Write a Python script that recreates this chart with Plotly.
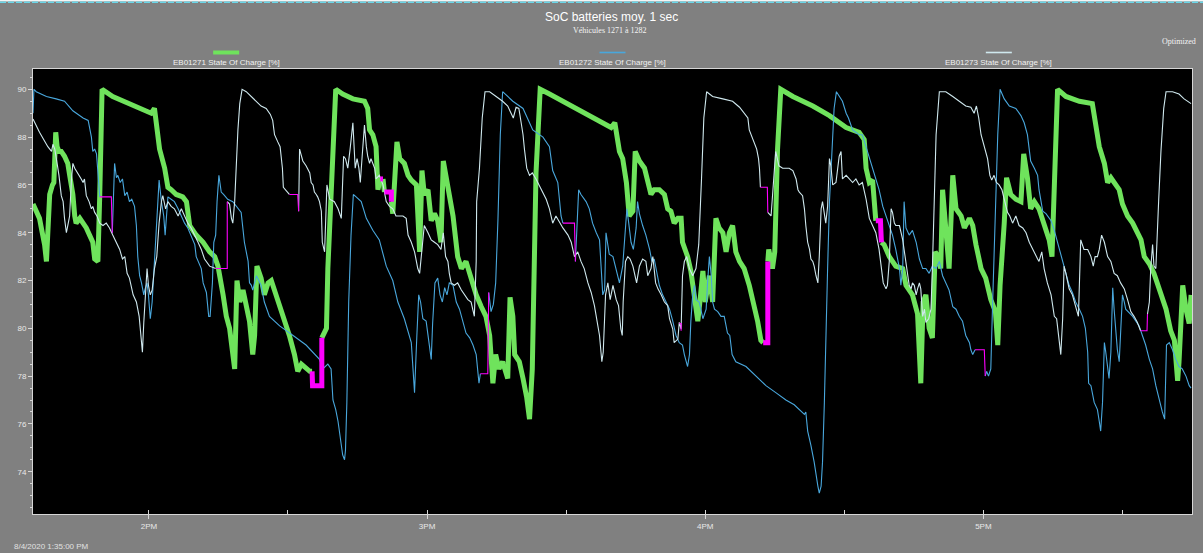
import pandas as pd
import plotly.graph_objects as go

START = pd.Timestamp("2020-08-04 13:35:00")
SPAN_MIN = 250  # 13:35 -> 17:45

# (minutes after 13:35, state of charge %) ; None = substituted stretch (drawn in magenta)
eb01271 = [
    (0.0, 85.2), (1.4, 84.6), (1.8, 84.2), (2.5, 83.5), (2.9, 82.8), (3.2, 84.7), (3.6, 85.6), (4.2, 86.0),
    (4.5, 86.1), (4.9, 88.2), (5.2, 87.6), (5.6, 87.4), (6.1, 87.4), (6.8, 87.2), (7.5, 86.9), (8.0, 86.3),
    (8.6, 85.6), (9.0, 84.7), (9.3, 84.4), (10.1, 84.6), (10.8, 84.4), (11.5, 84.2), (12.2, 83.9), (12.9, 83.6),
    (13.3, 82.9), (13.7, 82.8), (14.0, 82.8), (14.4, 85.6), (14.9, 90.0), (17.2, 89.7), (21.6, 89.3), (25.5, 89.0),
    (26.2, 89.2), (26.6, 88.6), (27.3, 87.5), (28.4, 86.7), (29.1, 85.9), (29.8, 85.8), (30.9, 85.6), (32.3, 85.5),
    (33.1, 85.3), (33.8, 84.3), (35.2, 83.9), (36.7, 83.6), (38.1, 83.2), (39.2, 83.0), (39.9, 82.6), (41.0, 81.4),
    (41.7, 80.5), (42.4, 80.0), (43.1, 78.6), (43.5, 78.3), (44.0, 82.0), (44.6, 81.1), (45.3, 81.6), (46.0, 80.8),
    (46.7, 80.3), (47.4, 78.9), (47.8, 79.7), (48.3, 82.6), (49.2, 82.1), (49.9, 81.4), (50.7, 81.9), (51.4, 82.0),
    (52.1, 81.6), (53.2, 81.0), (54.3, 80.4), (55.3, 79.7), (56.4, 78.9), (57.1, 78.2), (57.9, 78.5), (59.7, 78.2),
    (60.2, 78.2), None,
    (62.3, 79.6), (63.3, 80.0), (63.6, 82.5), (64.0, 84.2), (64.3, 85.9), (64.7, 88.1), (65.3, 90.0), (66.8, 89.8),
    (69.0, 89.6), (71.5, 89.5), (72.2, 89.2), (72.6, 88.3), (73.3, 88.1), (74.0, 87.6), (74.4, 85.8), (74.9, 86.25),
    None, (75.5, 86.25), (75.8, 85.7), None,
    (77.3, 85.3), (77.6, 84.8), (78.5, 87.8), (79.1, 87.1), (80.1, 86.9), (80.9, 86.4), (81.6, 86.2), (82.7, 86.0),
    (83.4, 83.2), (83.9, 86.6), (84.4, 85.6), (85.2, 85.8), (85.9, 84.5), (86.6, 84.8), (87.3, 84.5), (88.0, 83.6),
    (88.5, 87.0), (89.5, 86.0), (90.6, 84.7), (91.6, 83.0), (92.4, 82.5), (93.4, 82.8), (94.5, 82.1), (95.6, 81.4),
    (96.7, 80.9), (97.7, 80.5), (98.5, 79.7), (99.2, 77.7), (99.8, 78.9), (100.5, 78.3), (101.3, 78.6), (102.4, 77.9),
    (102.9, 81.3), (103.5, 80.5), (103.9, 78.9), (104.9, 78.6), (105.7, 77.9), (106.5, 77.1), (107.1, 76.2), (107.7, 78.3),
    (108.5, 86.5), (109.4, 90.0), (111.4, 89.8), (114.3, 89.5), (118.6, 89.0), (122.9, 88.6), (124.7, 88.4), (125.5, 88.6),
    (126.5, 87.4), (127.2, 87.1), (128.0, 86.1), (128.6, 84.7), (129.4, 84.9), (129.9, 87.4), (130.8, 87.0), (131.9, 86.7),
    (132.6, 86.2), (133.3, 85.6), (134.0, 85.8), (135.1, 85.8), (136.2, 85.6), (136.9, 85.0), (137.6, 84.9), (138.3, 84.4),
    (139.1, 84.6), (139.8, 84.6), (140.1, 83.6), (141.2, 83.0), (141.9, 82.4), (142.7, 81.4), (143.4, 80.3), (143.9, 81.2),
    (144.5, 82.4), (145.0, 81.1), (145.9, 82.2), (146.6, 81.1), (147.3, 84.6), (148.0, 84.2), (148.8, 84.0), (149.5, 83.2),
    (150.2, 84.0), (150.9, 84.3), (151.6, 83.2), (152.4, 82.8), (153.4, 82.5), (154.5, 81.8), (155.6, 81.0), (156.3, 80.3),
    (157.0, 79.5), (157.5, 79.4), None,
    (158.5, 82.8), (158.7, 83.3), (159.5, 82.5), (160.0, 83.2), (160.6, 87.5), (161.3, 90.0), (163.9, 89.7), (168.2, 89.3),
    (171.8, 88.9), (173.9, 88.6), (175.4, 88.4), (178.2, 88.2), (179.3, 87.9), (179.7, 86.7), (180.4, 86.1), (181.1, 86.2),
    (181.8, 84.5), None,
    (183.0, 83.6), (183.6, 83.5), (184.7, 83.0), (186.1, 82.6), (187.6, 82.5), (188.3, 81.8), (189.7, 81.4), (190.8, 80.6),
    (191.5, 77.7), (192.0, 81.1), (192.6, 81.4), (193.3, 80.0), (194.0, 79.6), (194.6, 83.2), (195.3, 83.0), (195.8, 82.5),
    (196.2, 85.8), (196.9, 84.1), (197.6, 82.5), (198.4, 86.4), (199.1, 85.0), (200.2, 84.7), (200.9, 84.2), (202.0, 84.6),
    (202.7, 84.3), (203.4, 83.5), (204.5, 82.5), (205.5, 82.1), (206.6, 81.2), (207.6, 80.7), (208.1, 79.3), (208.6, 81.8),
    (209.1, 83.0), (209.5, 84.4), (210.0, 86.3), (210.9, 85.6), (212.0, 85.4), (213.1, 85.3), (213.7, 87.3), (214.5, 86.3),
    (215.2, 85.0), (216.0, 85.3), (217.0, 85.0), (218.1, 84.3), (219.2, 83.7), (219.8, 83.0), (220.3, 86.6), (221.0, 90.0),
    (222.8, 89.7), (225.7, 89.5), (228.5, 89.4), (229.3, 88.5), (230.0, 87.6), (231.1, 86.9), (231.8, 86.1), (232.5, 86.3),
    (233.2, 86.1), (234.3, 85.8), (235.0, 85.2), (236.1, 84.7), (237.2, 84.4), (238.2, 84.0), (239.0, 83.7), (239.7, 83.0),
    (240.8, 82.7), (241.8, 82.3), (242.6, 81.8), (243.3, 81.4), (244.4, 80.8), (245.4, 79.9), (246.2, 79.5), (246.9, 77.8),
    (247.2, 78.6), (248.0, 81.8), (248.7, 80.8), (249.4, 80.2), (249.8, 81.4),
]

eb01272 = [
    (0.0, 89.0), (0.2, 90.0), (0.7, 89.9), (2.9, 89.7), (5.0, 89.6), (6.8, 89.5), (8.6, 89.1), (10.8, 88.8),
    (11.9, 88.7), (12.6, 88.0), (12.9, 87.4), (13.3, 87.5), (13.7, 87.3), (13.9, 86.7), (14.4, 85.5), None,
    (17.1, 84.0), (17.6, 86.9), (18.0, 86.3), (18.3, 86.4), (18.8, 86.1), (19.3, 86.25), (19.8, 85.55), (20.3, 85.7),
    (20.8, 85.3), (21.3, 85.4), (21.9, 85.1), (22.3, 84.3), (22.6, 83.0), (23.0, 82.2), (23.4, 81.9), (23.9, 81.4),
    (24.1, 81.6), (24.6, 81.9), (24.9, 81.4), (25.3, 80.4), (25.7, 81.1), (26.3, 83.3), (26.7, 84.3), (27.2, 86.2),
    (27.7, 85.3), (28.2, 84.7), (28.5, 83.9), (29.1, 85.5), (29.8, 85.4), (30.5, 85.3), (31.3, 85.0), (32.0, 84.7),
    (32.7, 84.4), (33.4, 84.2), (34.1, 83.9), (34.9, 83.5), (35.2, 83.0), (35.6, 82.8), (36.3, 82.5), (36.7, 81.9),
    (37.4, 81.5), (37.9, 80.5), (38.2, 80.5), (38.7, 81.9), (39.0, 83.6), (39.4, 83.9), (39.7, 85.3), (40.1, 86.4),
    (40.6, 85.7), (41.1, 85.6), (42.0, 85.4), (43.1, 85.3), (44.2, 85.0), (44.9, 84.85), (45.6, 83.6), (46.4, 82.8),
    (46.7, 81.9), (47.1, 81.8), (47.4, 81.6), (48.2, 82.2), (49.2, 81.8), (49.9, 81.1), (51.0, 80.5), (53.2, 80.1),
    (56.1, 79.7), (58.9, 79.3), (61.8, 78.7), (62.5, 78.3), (63.6, 78.5), (64.3, 78.3), (64.7, 77.0), (65.3, 76.6),
    (65.8, 76.1), (66.5, 75.2), (66.8, 74.7), (67.2, 74.5), (67.4, 74.9), (67.7, 76.9), (68.1, 81.1), (68.6, 83.9),
    (69.1, 85.6), (69.7, 85.5), (70.8, 85.3), (71.9, 84.6), (73.3, 84.1), (74.7, 83.7), (76.2, 82.6), (77.6, 82.0),
    (78.7, 81.1), (80.1, 80.4), (81.6, 79.4), (81.9, 78.5), (82.3, 77.3), (82.8, 79.7), (83.2, 81.4), (83.6, 81.1),
    (84.1, 80.4), (84.8, 80.3), (85.4, 79.3), (85.9, 78.7), (86.2, 80.2), (86.7, 81.9), (87.3, 82.1), (87.8, 81.4),
    (88.3, 81.1), (88.8, 81.7), (89.3, 81.4), (89.8, 81.9), (90.6, 81.8), (91.3, 81.1), (92.0, 80.8), (92.7, 80.3),
    (93.4, 79.8), (94.2, 79.6), (94.9, 79.3), (95.6, 78.9), (96.2, 77.7), (96.5, 78.1), None,
    (98.3, 81.5), (98.8, 80.7), (99.3, 81.0), (99.8, 81.9), (100.3, 84.6), (100.8, 88.1), (101.3, 89.9), (103.5, 89.5),
    (105.7, 89.2), (107.8, 88.3), (110.0, 88.0), (111.4, 87.6), (112.1, 86.6), (113.2, 86.1), (113.9, 84.7), (114.3, 84.4),
    None,
    (117.0, 82.8), (117.7, 85.8), (118.2, 85.6), (119.3, 85.3), (120.0, 85.0), (120.7, 84.4), (121.5, 84.0), (122.2, 83.7),
    (122.9, 81.4), (123.3, 81.6), (123.6, 84.0), (124.3, 83.1), (125.1, 83.0), (125.8, 82.5), (126.5, 81.9), (127.2, 82.6),
    (127.8, 84.2), (128.1, 85.0), (128.5, 84.4), (129.0, 83.6), (129.5, 83.3), (130.1, 84.2), (130.4, 85.3), (130.8, 84.8),
    (131.5, 84.3), (132.2, 83.9), (133.0, 83.3), (133.5, 82.8), (134.0, 82.9), (134.4, 82.5), (135.1, 81.8), (135.8, 81.4),
    (136.5, 81.1), (137.3, 80.8), (138.0, 80.3), (138.7, 79.7), (139.4, 79.4), (140.1, 79.3), (140.5, 78.9), (140.9, 78.6),
    (141.2, 78.4), (141.6, 78.9), (141.9, 80.3), (142.3, 81.4), (142.7, 81.8), (143.0, 81.2), (143.7, 81.1), (144.5, 80.4),
    (145.2, 80.8), (145.5, 81.9), (145.9, 83.0), (146.3, 82.2), (146.6, 81.1), (147.0, 80.8), (147.7, 80.7), (148.4, 80.5),
    (149.1, 80.5), (149.8, 79.8), (150.3, 79.7), (150.8, 78.9), (151.6, 78.6), (153.8, 78.4), (155.9, 78.0), (158.1, 77.6),
    (160.3, 77.3), (162.4, 77.0), (164.2, 76.8), (165.7, 76.5), (166.4, 76.4), (166.7, 76.5), (167.1, 75.7), (167.8, 75.1),
    (168.5, 74.4), (169.3, 73.4), (169.6, 73.1), (170.0, 73.4), (170.3, 74.4), (170.7, 76.9), (171.0, 79.7), (171.4, 82.5),
    (171.8, 85.3), (172.3, 87.4), (172.8, 89.2), (173.3, 89.9), (173.9, 89.7), (174.6, 89.5), (175.4, 89.0), (175.9, 88.8),
    (176.8, 88.3), (177.5, 88.2), (178.2, 88.1), (178.9, 88.1), (179.7, 87.6), (180.4, 87.1), (181.1, 86.7), (181.8, 86.2),
    (182.5, 85.8), (183.3, 85.1), (184.0, 84.7), (184.7, 84.3), (185.4, 83.9), (186.1, 83.3), (186.9, 82.5), (187.2, 81.8),
    (187.6, 82.5), (187.9, 85.3), (188.3, 84.2), (189.0, 83.9), (189.7, 84.1), (190.5, 83.6), (191.2, 82.9), (191.9, 82.5),
    (192.6, 82.5), (193.3, 82.3), (194.0, 82.6), (194.8, 82.5), (195.5, 82.8), (196.2, 82.2), (196.9, 81.9), (197.6, 81.6),
    (198.4, 80.9), (199.1, 80.8), (199.8, 80.5), (200.5, 80.3), (201.2, 79.7), (202.0, 79.4), (202.3, 79.1), (202.7, 78.9),
    (203.2, 79.1), None,
    (205.4, 78.0), (205.7, 78.2), (206.1, 78.0), (206.6, 78.3), (207.0, 81.1), (207.6, 85.3), (208.1, 88.1), (208.6, 90.0),
    (209.5, 89.6), (210.6, 89.3), (212.0, 89.2), (213.1, 88.9), (213.8, 88.6), (214.5, 88.1), (214.9, 87.4), (215.2, 87.0),
    (216.0, 86.7), (216.7, 86.4), (217.0, 85.8), (217.4, 85.3), (217.8, 84.9), (218.5, 84.8), (219.6, 84.5), (220.3, 84.1),
    (221.0, 83.6), (221.7, 83.0), (222.4, 82.5), (222.8, 82.2), (223.5, 81.8), (224.2, 81.5), (224.9, 81.1), (225.7, 80.8),
    (226.4, 80.5), (227.0, 80.0), (227.5, 79.0), (227.7, 77.7), (228.2, 77.6), (228.9, 76.9), (229.6, 76.6), (230.0, 76.1),
    (230.3, 75.7), (230.7, 76.9), (231.1, 79.4), (231.4, 79.0), (231.8, 78.3), (232.1, 77.9), (232.5, 79.0), (232.9, 81.7),
    (233.2, 80.8), (233.6, 79.7), (233.9, 79.1), (234.3, 78.6), (234.6, 79.7), (235.0, 81.4), (235.4, 81.1), (235.7, 80.8),
    (237.2, 80.5), (237.9, 80.3), (238.6, 80.1), (239.3, 79.7), (240.0, 79.3), (240.8, 78.7), (241.5, 78.3), (242.2, 77.6),
    (242.9, 77.0), (243.6, 76.5), (244.1, 76.2), (244.5, 79.3), (245.1, 79.4), (245.8, 79.1), (246.5, 78.7), (247.2, 78.4),
    (247.9, 78.3), (248.7, 78.0), (249.4, 77.6), (249.8, 77.5),
]

eb01273 = [
    (0.0, 88.76), (1.4, 88.2), (3.2, 87.6), (4.0, 87.4), (4.3, 87.7), (4.7, 87.5), (5.2, 86.9), (5.6, 86.4),
    (6.1, 85.55), (6.5, 85.3), (6.8, 84.6), (7.2, 84.0), (7.5, 84.3), (7.9, 84.7), (8.3, 86.25), (8.6, 86.9),
    (9.0, 86.7), (9.7, 86.5), (10.4, 86.25), (10.8, 86.1), (11.1, 86.25), (11.5, 85.55), (12.1, 85.3), (12.6, 85.0),
    (12.9, 85.1), (13.3, 84.85), (13.8, 84.7), (14.4, 84.4), (15.1, 84.3), (15.8, 84.4), (16.5, 84.2), (17.2, 83.9),
    (18.0, 83.6), (18.7, 83.3), (19.3, 82.9), (19.8, 83.0), (20.3, 82.3), (20.8, 82.1), (21.6, 81.4), (22.3, 81.1),
    (22.9, 80.5), (23.4, 79.4), (23.6, 79.0), (23.9, 80.25), (24.3, 81.4), (24.6, 82.5), (24.9, 81.8), (25.3, 81.4),
    (25.7, 81.6), (26.2, 82.5), (26.7, 83.0), (27.2, 84.4), (27.7, 85.3), (28.0, 85.55), (28.6, 85.0), (29.1, 85.3),
    (29.8, 85.1), (30.5, 85.0), (31.3, 84.7), (32.0, 85.0), (32.7, 84.7), (33.4, 84.4), (34.1, 84.2), (34.9, 83.9),
    (35.6, 83.6), (36.3, 83.3), (37.0, 82.9), (38.1, 82.6), (39.4, 82.5), None,
    (41.9, 85.3), (42.4, 85.2), (42.8, 84.6), (43.1, 84.4), (43.5, 85.3), (43.8, 86.7), (44.2, 88.3), (44.6, 89.4),
    (45.1, 90.0), (46.0, 89.9), (47.1, 89.7), (48.2, 89.5), (49.2, 89.3), (50.3, 89.2), (51.2, 88.95), (51.7, 88.7),
    (52.1, 88.1), (52.8, 87.8), (53.3, 87.6), (53.8, 86.7), (54.0, 85.9), (55.3, 85.6), None,
    (57.3, 84.9), (57.5, 87.5), (58.2, 87.0), (58.9, 86.8), (59.7, 86.5), (60.0, 86.1), (60.4, 86.0), (60.7, 85.7),
    (61.1, 85.6), (61.4, 85.5), (61.8, 85.3), (62.2, 84.9), (62.4, 83.6), (62.9, 83.2), (63.4, 86.0), (64.0, 85.4),
    (65.0, 85.3), (65.8, 85.0), (66.5, 84.6), (67.0, 87.2), (67.4, 87.1), (67.9, 86.7), (68.4, 87.5), (69.0, 88.6),
    (69.5, 86.7), (69.9, 87.1), (70.3, 86.7), (70.6, 86.1), (71.0, 87.2), (71.5, 88.5), (71.9, 87.6), (72.2, 87.2),
    (72.6, 86.9), (72.9, 87.1), (73.7, 86.7), (74.0, 86.25), (74.7, 86.4), (75.5, 86.0), (76.2, 85.3), (76.9, 85.1),
    (77.6, 85.0), (78.3, 84.7), (79.1, 84.7), (79.8, 84.7), (80.5, 84.6), (80.9, 83.9), (81.6, 83.6), (82.3, 83.2),
    (83.0, 82.5), (83.4, 82.3), (83.9, 83.3), (84.4, 84.3), (85.2, 84.0), (85.9, 83.7), (86.6, 83.6), (87.3, 83.5),
    (88.0, 83.3), (88.5, 84.0), (89.0, 83.0), (89.5, 82.8), (89.8, 82.3), (90.2, 81.9), (90.9, 81.8), (91.6, 81.9),
    (92.4, 81.6), (93.1, 81.4), (93.8, 81.2), (94.5, 81.1), (95.2, 80.5), (95.6, 82.8), (95.7, 85.3), (96.3, 86.7),
    (96.9, 88.8), (97.5, 89.9), (98.5, 89.9), (99.9, 89.7), (101.3, 89.5), (102.4, 89.3), (103.1, 89.0), (103.6, 88.8),
    (104.2, 89.25), (104.8, 89.2), (105.3, 88.6), (105.7, 88.1), (106.0, 87.5), (106.5, 86.7), (107.1, 86.4), (107.7, 86.5),
    (108.5, 86.25), (109.2, 86.0), (110.0, 85.7), (110.7, 85.4), (111.4, 85.0), (112.1, 84.4), (112.8, 84.7), (113.6, 84.4),
    (114.3, 84.2), (115.4, 83.9), (116.1, 83.6), (116.8, 83.0), (117.5, 83.2), (118.2, 82.8), (118.9, 82.5), (119.7, 81.9),
    (120.4, 81.5), (121.1, 80.95), (121.8, 80.25), (122.2, 79.7), (122.7, 78.6), (123.0, 79.0), (123.5, 81.4), (124.0, 81.9),
    (124.5, 81.2), (125.1, 81.8), (125.8, 81.2), (126.3, 80.95), (126.8, 79.97), (127.1, 79.7), (127.3, 81.1), (127.8, 82.8),
    (128.3, 83.0), (128.8, 82.9), (129.4, 82.6), (129.9, 82.2), (130.2, 81.9), (130.8, 82.6), (131.5, 82.9), (132.2, 82.8),
    (132.6, 82.2), (133.3, 82.5), (133.7, 83.0), (134.3, 81.9), (134.8, 81.65), (135.5, 81.4), (136.2, 81.1), (136.9, 80.95),
    (137.3, 80.4), (138.0, 79.97), (138.3, 79.4), (139.1, 79.55), (139.4, 80.25), (139.8, 79.97), (140.1, 82.2), (140.5, 82.8),
    (141.0, 83.0), (141.6, 82.5), (142.3, 82.2), (143.0, 82.5), (143.6, 83.5), (144.2, 86.25), (144.7, 88.8), (145.3, 89.9),
    (146.6, 89.7), (148.8, 89.6), (150.9, 89.5), (152.4, 89.25), (153.4, 89.0), (154.2, 88.8), (154.5, 88.3), (154.9, 88.1),
    (155.6, 87.8), (156.1, 87.5), (156.5, 87.1), (156.7, 86.7), (156.9, 85.9), None,
    (158.5, 84.85), (159.2, 84.7), (160.2, 87.4), (160.9, 86.8), (161.7, 86.7), (162.4, 86.7), (163.1, 86.7), (163.9, 86.6),
    (164.6, 86.25), (165.0, 85.8), (165.3, 85.7), (166.0, 85.55), (166.4, 85.0), (166.7, 84.3), (167.1, 83.6), (167.5, 83.3),
    (167.8, 82.9), (168.2, 82.8), (168.5, 82.6), (168.9, 82.2), (169.3, 81.9), (169.6, 83.0), (170.0, 85.0), (170.3, 85.3),
    (170.7, 84.7), (171.0, 84.4), (171.4, 85.1), (171.8, 87.1), (172.1, 86.8), (172.5, 86.0), (173.2, 86.1), (173.9, 87.2),
    (174.3, 87.4), (174.6, 86.25), (175.4, 86.4), (176.1, 86.25), (176.8, 86.1), (177.5, 86.25), (178.2, 86.0), (178.9, 86.1),
    (179.7, 85.4), (180.4, 84.6), (181.1, 84.3), (181.8, 84.0), (182.5, 83.3), (182.9, 82.6), (183.4, 81.9), (184.0, 81.65),
    (184.3, 81.8), (184.7, 82.8), (185.1, 85.0), (185.4, 84.85), (185.8, 84.4), (186.1, 84.3), (186.9, 84.3), (187.6, 83.7),
    (188.3, 82.8), (189.0, 81.8), (189.4, 81.65), (189.7, 81.9), (190.1, 81.8), (190.5, 81.4), (190.8, 81.65), (191.2, 81.9),
    (191.5, 81.65), (191.9, 80.5), (192.3, 80.8), (192.6, 80.25), (193.2, 80.4), (193.7, 80.8), (194.0, 82.5), (194.4, 85.3),
    (194.8, 88.1), (195.5, 89.9), (196.9, 89.9), (198.4, 89.7), (199.8, 89.5), (201.2, 89.3), (202.3, 89.25), (203.0, 89.0),
    (203.5, 89.3), (204.0, 88.8), (204.5, 88.1), (204.8, 87.9), (205.2, 87.6), (205.9, 87.1), (206.4, 86.4), (206.8, 86.2),
    (207.3, 86.4), (207.8, 86.1), (208.4, 86.0), (209.0, 85.8), (209.5, 85.4), (210.2, 84.85), (210.7, 84.7), (211.3, 84.4),
    (212.0, 84.7), (212.7, 84.3), (213.5, 84.2), (214.2, 84.0), (214.9, 83.6), (215.6, 83.3), (216.3, 83.0), (216.7, 82.9),
    (217.0, 82.8), (217.6, 83.2), (218.1, 82.5), (218.8, 81.9), (219.6, 81.4), (220.3, 80.5), (220.8, 80.4), (221.2, 79.7),
    (221.7, 78.9), (222.1, 80.4), (222.4, 82.6), (222.8, 82.3), (223.5, 81.65), (224.2, 81.4), (224.9, 80.95), (225.5, 80.5),
    (226.0, 83.7), (226.7, 83.3), (227.5, 83.3), (228.2, 83.0), (228.7, 82.6), (229.1, 83.0), (229.6, 83.0), (230.0, 83.3),
    (230.5, 83.9), (231.1, 83.6), (231.8, 83.0), (232.5, 82.8), (233.2, 82.3), (233.9, 82.2), (234.6, 81.9), (235.4, 81.65),
    (236.1, 81.2), (236.8, 80.7), (237.5, 80.5), (238.2, 80.25), (238.9, 79.9), None,
    (240.4, 80.6), (240.8, 81.1), (241.1, 82.5), (241.5, 83.5), (241.8, 82.6), (242.2, 82.5), (242.8, 85.3), (243.3, 87.4),
    (243.9, 89.2), (244.4, 89.9), (245.8, 89.9), (247.2, 89.8), (248.3, 89.6), (249.8, 89.4),
]

# substituted (held) values, drawn in magenta over the gaps above
subst_eb01271 = [
    [(60.2, 78.2), (60.3, 77.6), (62.3, 77.6), (62.3, 79.6)],
    [(74.9, 86.25), (75.5, 86.25)],
    [(75.8, 85.7), (77.3, 85.7), (77.3, 85.3)],
    [(157.5, 79.4), (158.5, 79.4), (158.5, 82.8)],
    [(181.8, 84.5), (182.8, 84.5), (183.0, 83.6)],
]
subst_thin = [
    [(14.4, 85.5), (16.9, 85.5), (17.1, 84.0)],
    [(39.4, 82.5), (41.9, 82.5), (41.9, 85.3)],
    [(55.3, 85.6), (57.1, 85.6), (57.3, 84.9)],
    [(96.5, 78.1), (98.1, 78.1), (98.3, 81.5)],
    [(114.3, 84.4), (116.8, 84.4), (117.0, 82.8)],
    [(139.4, 80.2), (139.8, 80.2), (139.8, 79.9)],
    [(156.9, 85.9), (158.4, 85.9), (158.5, 84.85)],
    [(203.2, 79.1), (205.2, 79.1), (205.4, 78.0)],
    [(238.9, 79.9), (240.3, 79.9), (240.4, 80.6)],
]

series_names = ["EB01271 State Of Charge [%]", "EB01272 State Of Charge [%]", "EB01273 State Of Charge [%]"]
GREEN, BLUE, PALE, MAGENTA = "#6fe35c", "#49a7dc", "#cfe8ee", "#ff00ff"
GRAY = "#808080"

W, H = 1203, 553
L, R, T, B = 33, 11, 69, 39


def to_xy(points):
    xs, ys = [], []
    for p in points:
        if p is None:
            xs.append(None)
            ys.append(None)
        else:
            xs.append(START + pd.Timedelta(minutes=p[0]))
            ys.append(p[1])
    return xs, ys


def join(segments):
    out = []
    for seg in segments:
        out.extend(seg)
        out.append(None)
    return out


def px(xp):
    return (xp - L) / (W - L - R)


def py(yp):
    return (H - B - yp) / (H - T - B)


fig = go.Figure()
for pts, color, width in [(eb01271, GREEN, 5), (eb01272, BLUE, 1.1), (eb01273, PALE, 1.1)]:
    x, y = to_xy(pts)
    fig.add_trace(go.Scatter(x=x, y=y, mode="lines", line=dict(color=color, width=width),
                             connectgaps=False, hoverinfo="skip"))
for segs, width in [(subst_eb01271, 5), (subst_thin, 1.1)]:
    x, y = to_xy(join(segs))
    fig.add_trace(go.Scatter(x=x, y=y, mode="lines", line=dict(color=MAGENTA, width=width),
                             connectgaps=False, hoverinfo="skip"))

tick_font = dict(family="Liberation Sans, Arial, sans-serif", size=8, color="#e8e8e8")
axis_col = "#d6d6d6"

fig.update_layout(
    width=W, height=H,
    margin=dict(l=L, r=R, t=T, b=B),
    paper_bgcolor=GRAY, plot_bgcolor="#000000",
    showlegend=False,
    xaxis=dict(
        type="date",
        range=[START, START + pd.Timedelta(minutes=SPAN_MIN)],
        tick0="2020-08-04 14:00:00", dtick=3600000, tickformat="%-I%p",
        ticks="outside", ticklen=4, tickcolor=axis_col, tickwidth=1,
        showgrid=False, zeroline=False, showline=True, linecolor=axis_col, linewidth=1, mirror=True,
        tickfont=tick_font,
        minor=dict(tick0="2020-08-04 13:30:00", dtick=1800000, ticks="inside", ticklen=4,
                   tickcolor=axis_col, showgrid=False),
    ),
    yaxis=dict(
        range=[72.23, 90.85], tick0=0, dtick=2,
        ticks="outside", ticklen=4, tickcolor=axis_col, tickwidth=1,
        showgrid=False, zeroline=False, showline=True, linecolor=axis_col, linewidth=1, mirror=True,
        tickfont=tick_font,
        minor=dict(tick0=0, dtick=0.5, ticks="outside", ticklen=2, tickcolor=axis_col, showgrid=False),
    ),
)

annotations = [
    dict(text="SoC batteries moy. 1 sec", x=px(611), y=py(17), font=dict(family="Liberation Sans, Arial", size=12, color="#ffffff")),
    dict(text="Véhicules 1271 à 1282", x=px(610), y=py(31), font=dict(family="Liberation Serif, Times New Roman", size=8, color="#f4f4f4")),
    dict(text="Optimized", x=px(1198), y=py(41), xanchor="right", font=dict(family="Liberation Serif, Times New Roman", size=8, color="#f4f4f4")),
    dict(text="8/4/2020 1:35:00 PM", x=px(12), y=py(553), xanchor="left", yanchor="bottom",
         font=dict(family="Liberation Sans, Arial", size=8, color="#e0e0e0")),
]
shapes = [
    # dashed frame edge along the top of the page
    dict(type="rect", xref="paper", yref="paper", x0=px(0), x1=px(W), y0=py(1.5), y1=py(0),
         fillcolor="#f6f6f6", line=dict(width=0), layer="above"),
    dict(type="line", xref="paper", yref="paper", x0=px(0), x1=px(W), y0=py(2.3), y1=py(2.3),
         line=dict(color="#6ad6e8", width=1.5, dash="6px,2px"), layer="above"),
]

plot_w = W - L - R
legend_styles = [(GREEN, 4), (BLUE, 1.6), (PALE, 1.6)]
for i, (name, (color, lw)) in enumerate(zip(series_names, legend_styles)):
    cx = L + plot_w * (i + 0.5) / 3
    shapes.append(dict(type="line", xref="paper", yref="paper", x0=px(cx - 13), x1=px(cx + 13),
                       y0=py(52.5), y1=py(52.5), line=dict(color=color, width=lw)))
    annotations.append(dict(text=name, x=px(cx), y=py(62.5),
                            font=dict(family="Liberation Sans, Arial", size=8, color="#f0f0f0")))

for a in annotations:
    a.setdefault("xref", "paper")
    a.setdefault("yref", "paper")
    a.setdefault("showarrow", False)
    a.setdefault("xanchor", "center")
    a.setdefault("yanchor", "middle")

fig.update_layout(annotations=annotations, shapes=shapes)

fig.write_html("out.html", config={"displayModeBar": False})
